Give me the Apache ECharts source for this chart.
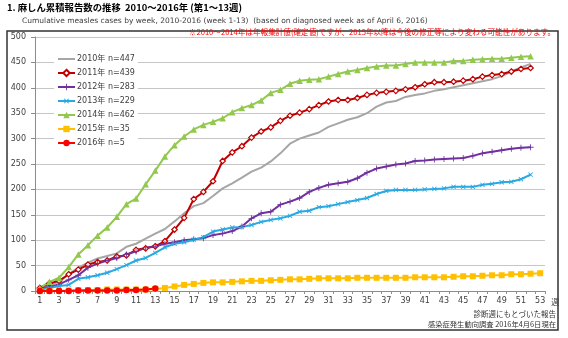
<!DOCTYPE html>
<html>
<head>
<meta charset="utf-8">
<script src="https://cdn.jsdelivr.net/npm/echarts@6/dist/echarts.min.js"></script>
<style>
    html, body { margin: 0; padding: 0; background: #fff; }
    #measlesChart { width: 568px; height: 338px; }
</style>
</head>
<body>
<div id="measlesChart"></div>
<script>
    // 週 (1〜53)
    var weeks = ['1', '2', '3', '4', '5', '6', '7', '8', '9', '10', '11', '12', '13', '14', '15', '16', '17', '18',
        '19', '20', '21', '22', '23', '24', '25', '26', '27', '28', '29', '30', '31', '32', '33', '34', '35', '36',
        '37', '38', '39', '40', '41', '42', '43', '44', '45', '46', '47', '48', '49', '50', '51', '52', '53']

    // 累積報告数
    var cases2010 = [5, 11, 18, 33, 46, 56, 64, 69, 74, 87, 93, 103, 113, 122, 137, 153, 167, 173, 187, 202,
        212, 223, 235, 243, 255, 271, 290, 300, 306, 312, 323, 330, 337, 342, 350, 363, 371, 374, 382, 386,
        389, 394, 397, 401, 405, 409, 413, 417, 423, 432, 440, 447]
    var cases2011 = [6, 15, 20, 33, 42, 52, 57, 60, 68, 70, 81, 84, 88, 98, 121, 144, 181, 195, 216, 256,
        273, 285, 302, 314, 322, 335, 345, 351, 358, 366, 373, 376, 376, 380, 386, 390, 392, 394, 397, 401,
        407, 411, 411, 412, 414, 417, 422, 425, 427, 432, 437, 439]
    var cases2012 = [5, 8, 13, 22, 31, 46, 54, 60, 65, 72, 78, 85, 88, 93, 96, 100, 102, 104, 110, 113,
        118, 127, 143, 153, 156, 170, 176, 183, 195, 203, 209, 212, 215, 222, 233, 241, 245, 249, 251, 256,
        257, 259, 260, 261, 262, 266, 271, 274, 277, 280, 282, 283]
    var cases2013 = [3, 6, 10, 12, 24, 27, 31, 36, 43, 51, 60, 65, 75, 86, 93, 96, 101, 106, 117, 121,
        125, 126, 130, 136, 140, 143, 148, 156, 158, 165, 167, 171, 175, 179, 183, 191, 197, 199, 199, 199,
        200, 201, 202, 205, 205, 205, 209, 211, 214, 215, 220, 229]
    var cases2014 = [6, 18, 26, 47, 72, 90, 109, 125, 146, 171, 182, 210, 237, 265, 287, 304, 318, 327, 333, 340,
        352, 360, 366, 375, 390, 396, 408, 414, 416, 417, 422, 427, 432, 435, 439, 442, 444, 444, 447, 450,
        450, 450, 450, 453, 453, 455, 456, 457, 457, 459, 461, 462]
    var cases2015 = [0, 0, 0, 1, 2, 2, 2, 3, 3, 3, 3, 3, 4, 6, 9, 12, 14, 16, 17, 17,
        18, 19, 20, 20, 21, 22, 23, 23, 24, 25, 25, 25, 25, 26, 26, 26, 26, 26, 26, 27,
        27, 27, 27, 28, 29, 29, 30, 31, 31, 33, 33, 34, 35]
    var cases2016 = [0, 0, 0, 0, 1, 1, 1, 1, 1, 2, 2, 3, 5]

    var seriesNames = ['2010年 n=447', '2011年 n=439', '2012年 n=283', '2013年 n=229', '2014年 n=462', '2015年 n=35', '2016年 n=5']

    var plusPath = 'path://M4.3,0H5.7V4.3H10V5.7H5.7V10H4.3V5.7H0V4.3H4.3Z'

    var myChart = echarts.init(document.getElementById('measlesChart'))

    var axisFont = 'DejaVu Sans, Noto Sans CJK JP, sans-serif'
    var jpFont = 'Noto Sans CJK JP, DejaVu Sans, sans-serif'

    function lineSeries (name, data, color, symbol, size, extra) {
        var s = {
            name: name,
            type: 'line',
            data: data,
            symbol: symbol,
            symbolSize: size,
            showSymbol: true,
            showAllSymbol: true,
            lineStyle: { width: 2, color: color },
            itemStyle: { color: color },
            emphasis: { disabled: true },
            animation: false
        }
        return Object.assign(s, extra || {})
    }

    var option = {
        textStyle: { fontFamily: axisFont },
        title: [
            {
                text: '1. 麻しん累積報告数の推移  2010～2016年 (第1～13週)',
                left: 7, top: 3, padding: 0,
                textStyle: { fontSize: 9.4, fontWeight: 'bold', color: '#000', fontFamily: jpFont }
            },
            {
                text: 'Cumulative measles cases by week, 2010-2016 (week 1-13)  (based on diagnosed week as of April 6, 2016)',
                left: 22, top: 17, padding: 0,
                textStyle: { fontSize: 7.5, fontWeight: 'normal', color: '#404040', fontFamily: axisFont }
            },
            {
                text: '※2010～2014年は年報集計値(確定値)ですが、2015年以降は今後の修正等により変わる可能性があります。',
                right: 13, top: 28.5, padding: 0,
                textStyle: { fontSize: 7.6, fontWeight: 'normal', color: '#FF0000', fontFamily: jpFont }
            },
            {
                text: '診断週にもとづいた報告',
                right: 12, top: 310.5, padding: 0,
                textStyle: { fontSize: 7.5, fontWeight: 'normal', color: '#333', fontFamily: jpFont }
            },
            {
                text: '感染症発生動向調査 2016年4月6日現在',
                right: 12, top: 320.5, padding: 0,
                textStyle: { fontSize: 7.3, fontWeight: 'normal', color: '#333', fontFamily: jpFont }
            }
        ],
        graphic: [{
            type: 'rect',
            shape: { x: 7, y: 31, width: 551, height: 299 },
            style: { fill: 'none', stroke: '#333', lineWidth: 1.5 },
            silent: true
        }],
        legend: {
            orient: 'vertical',
            left: 54,
            top: 52,
            itemWidth: 17,
            itemHeight: 8,
            itemGap: 4,
            padding: [2, 3],
            backgroundColor: '#fff',
            textStyle: { fontSize: 8, lineHeight: 10, color: '#404040', fontFamily: axisFont, padding: [0, 0, 0, -3] },
            data: [
                { name: seriesNames[0], itemStyle: { color: 'rgba(0,0,0,0)', borderWidth: 0 } },
                seriesNames[1], seriesNames[2], seriesNames[3], seriesNames[4], seriesNames[5], seriesNames[6]
            ]
        },
        grid: {
            left: 35,
            right: 23,
            top: 37,
            bottom: 47
        },
        xAxis: {
            type: 'category',
            data: weeks,
            boundaryGap: true,
            name: '週',
            nameLocation: 'end',
            nameGap: 1,
            nameTextStyle: { fontSize: 8, color: '#404040', fontFamily: jpFont, verticalAlign: 'top', padding: [7, 0, 0, 0] },
            axisLine: { lineStyle: { color: '#8c8c8c', width: 1 } },
            axisTick: { show: true, interval: 0, length: 3, lineStyle: { color: '#8c8c8c' } },
            axisLabel: { interval: 1, fontSize: 8, color: '#404040', margin: 6 },
            splitLine: { show: false }
        },
        yAxis: {
            type: 'value',
            min: 0,
            max: 500,
            interval: 50,
            axisLine: { show: true, lineStyle: { color: '#8c8c8c', width: 1 } },
            axisTick: { show: true, length: 4, lineStyle: { color: '#8c8c8c' } },
            axisLabel: { fontSize: 8, color: '#404040', margin: 9 },
            splitLine: { lineStyle: { color: '#c6c6c6', width: 1 } }
        },
        series: [
            lineSeries(seriesNames[0], cases2010, '#A6A6A6', 'none', 0, { showSymbol: false }),
            lineSeries(seriesNames[1], cases2011, '#C00000', 'diamond', 5.5, {
                itemStyle: { color: '#fff', borderColor: '#C00000', borderWidth: 1.2 }
            }),
            lineSeries(seriesNames[2], cases2012, '#7030A0', plusPath, 6),
            lineSeries(seriesNames[3], cases2013, '#29A9E1', plusPath, 6, { symbolRotate: 45 }),
            lineSeries(seriesNames[4], cases2014, '#92C84E', 'triangle', 6.5),
            lineSeries(seriesNames[5], cases2015, '#FFC000', 'rect', 6),
            lineSeries(seriesNames[6], cases2016, '#FF0000', 'circle', 6.5)
        ]
    }
    myChart.setOption(option)
</script>
</body>
</html>
